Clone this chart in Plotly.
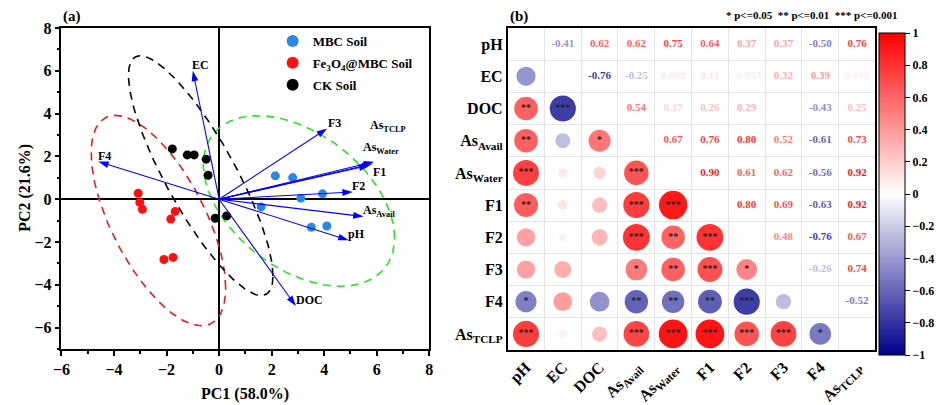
import numpy as np
import plotly.graph_objects as go
from plotly.colors import sample_colorscale

# ---------------- PCA biplot data ----------------
mbc_pc1 = [2.14, 2.80, 3.11, 3.94, 1.60, 3.51, 4.10]
mbc_pc2 = [1.09, 1.01, 0.05, 0.25, -0.36, -1.31, -1.25]
fe_pc1 = [-3.08, -3.02, -2.92, -1.67, -1.84, -2.10, -1.75]
fe_pc2 = [0.28, -0.15, -0.47, -0.57, -0.93, -2.82, -2.72]
ck_pc1 = [-1.78, -1.21, -0.95, -0.49, -0.42, -0.15, 0.29]
ck_pc2 = [2.35, 2.07, 2.07, 1.87, 1.12, -0.89, -0.78]

variables = ["pH", "EC", "DOC", "AsAvail", "AsWater", "F1", "F2", "F3", "F4", "AsTCLP"]
var_labels = ["pH", "EC", "DOC", "As<sub>Avail</sub>", "As<sub>Water</sub>",
              "F1", "F2", "F3", "F4", "As<sub>TCLP</sub>"]
load_pc1 = [4.93, -1.00, 2.92, 5.50, 5.72, 5.84, 5.09, 4.11, -4.60, 5.90]
load_pc2 = [-1.92, 6.00, -4.99, -0.81, 1.58, 1.66, 0.34, 3.30, 1.76, 1.75]

# confidence ellipses: centre, half-width, half-height, x-offset of the top point
ell_cx = [3.04, -2.31, -0.70]
ell_cy = [-0.085, -1.00, 1.10]
ell_hw = [3.64, 2.56, 2.75]
ell_hh = [3.985, 4.915, 5.60]
ell_topdx = [-1.57, -1.64, -2.30]

# ---------------- correlation data ----------------
corr_upper = [
    [-0.41, 0.62, 0.62, 0.75, 0.64, 0.37, 0.37, -0.50, 0.76],
    [-0.76, -0.25, 0.089, 0.11, -0.053, 0.32, 0.39, 0.063],
    [0.54, 0.17, 0.26, 0.29, -0.0021, -0.43, 0.25],
    [0.67, 0.76, 0.80, 0.52, -0.61, 0.73],
    [0.90, 0.61, 0.62, -0.56, 0.92],
    [0.80, 0.69, -0.63, 0.92],
    [0.48, -0.76, 0.67],
    [-0.26, 0.74],
    [-0.52],
]
sig_lower = [
    [""],
    ["**", "***"],
    ["**", "", "*"],
    ["***", "", "", "***"],
    ["**", "", "", "***", "***"],
    ["", "", "", "***", "**", "***"],
    ["", "", "", "*", "**", "***", "*"],
    ["*", "", "", "**", "**", "**", "***", ""],
    ["***", "", "", "***", "***", "***", "***", "***", "*"],
]

W, H = 936, 405
FONT = "Liberation Serif"
cscale = [[0.0, "#00008B"], [0.5, "#FFFFFF"], [1.0, "#FF0000"]]

fig = go.Figure()

# ---- ellipses ----
ell_colors = ["#22E622", "#F01818", "#000000"]
t = np.linspace(0, 2 * np.pi, 200)
for k in range(3):
    s = ell_topdx[k] * ell_hh[k] / ell_hw[k]
    kk = np.sqrt(ell_hh[k] ** 2 - s ** 2)
    ex = ell_cx[k] + ell_hw[k] * np.cos(t)
    ey = ell_cy[k] + s * np.cos(t) + kk * np.sin(t)
    fig.add_trace(go.Scatter(x=ex, y=ey, mode="lines", showlegend=False, hoverinfo="skip",
                             line=dict(color=ell_colors[k], width=1.6, dash="8px,6px"),
                             xaxis="x", yaxis="y"))

# ---- score points ----
groups = [
    ("MBC Soil", mbc_pc1, mbc_pc2, "#2C86E4"),
    ("Fe<sub>3</sub>O<sub>4</sub>@MBC Soil", fe_pc1, fe_pc2, "#FF1010"),
    ("CK Soil", ck_pc1, ck_pc2, "#000000"),
]
for gi, (name, px, py, col) in enumerate(groups):
    fig.add_trace(go.Scatter(x=px, y=py, mode="markers", name=name, legendgroup=f"g{gi}",
                             marker=dict(color=col, size=9, opacity=1),
                             xaxis="x", yaxis="y"))

# ---- loading vectors: shaft from origin, arrowhead marker oriented along the shaft ----
vx, vy, vsize = [], [], []
for lx, ly in zip(load_pc1, load_pc2):
    vx += [0, lx, None]
    vy += [0, ly, None]
    vsize += [0, 11, 0]
fig.add_trace(go.Scatter(x=vx, y=vy, mode="lines+markers", showlegend=False, hoverinfo="skip",
                         line=dict(color="#0000FF", width=1.1),
                         marker=dict(symbol="arrow", angleref="previous", size=vsize,
                                     color="#0000FF", opacity=1, line=dict(width=0)),
                         xaxis="x", yaxis="y"))

label_shift = {
    "pH": (8, 6), "EC": (8, 6), "DOC": (14, 6), "AsAvail": (15, 6), "AsWater": (12, 17),
    "F1": (7, -8), "F2": (6, 6), "F3": (7, 6), "F4": (6, 6), "AsTCLP": (14, 36),
}
annotations = []
for v, lab, lx, ly in zip(variables, var_labels, load_pc1, load_pc2):
    dx, dy = label_shift[v]
    annotations.append(dict(x=lx, y=ly, xref="x", yref="y", text=lab, showarrow=False,
                            xshift=dx, yshift=dy, font=dict(size=12, color="black")))

# ---------------- correlation matrix ----------------
n = len(variables)
R = np.eye(n)
for i, row in enumerate(corr_upper):
    for k, val in enumerate(row):
        j = i + 1 + k
        R[i, j] = R[j, i] = val


def fmt(val):
    if abs(val) >= 0.1:
        return f"{val:.2f}"
    return f"{val:.2g}"


ux, uy, utext, ucol = [], [], [], []
for i in range(n):
    for j in range(i + 1, n):
        ux.append(j)
        uy.append(i)
        utext.append(fmt(R[i, j]))
        ucol.append(sample_colorscale(cscale, [(R[i, j] + 1) / 2])[0])

fig.add_trace(go.Scatter(x=ux, y=uy, mode="text", text=utext, showlegend=False,
                         hoverinfo="skip", textfont=dict(size=11, color=ucol),
                         xaxis="x2", yaxis="y2"))

lx_, ly_, lval, lsize = [], [], [], []
sx, sy, stext = [], [], []
for i in range(1, n):
    for j in range(i):
        lx_.append(j)
        ly_.append(i)
        lval.append(R[i, j])
        lsize.append(30 * np.sqrt(abs(R[i, j])))
        star = sig_lower[i - 1][j]
        if star:
            sx.append(j)
            sy.append(i)
            stext.append(star)

fig.add_trace(go.Scatter(
    x=lx_, y=ly_, mode="markers", showlegend=False, hoverinfo="skip",
    marker=dict(size=lsize, color=lval, cmin=-1, cmax=1, colorscale=cscale, opacity=1,
                line=dict(width=0), showscale=True,
                colorbar=dict(x=887 / W, xanchor="left", xpad=0, thickness=26,
                              lenmode="pixels", len=322, y=(H - 33) / H, yanchor="top",
                              ypad=0, outlinewidth=1, outlinecolor="black",
                              tickmode="array", tickvals=[-1, -0.8, -0.6, -0.4, -0.2, 0, 0.2, 0.4, 0.6, 0.8, 1],
                              ticktext=["−1", "−0.8", "−0.6", "−0.4", "−0.2", "0", "0.2", "0.4", "0.6", "0.8", "1"],
                              ticks="outside", ticklen=5, tickcolor="black",
                              tickfont=dict(size=12, color="black"))),
    xaxis="x2", yaxis="y2"))

fig.add_trace(go.Scatter(x=sx, y=sy, mode="text", text=stext, textposition="middle center",
                         textfont=dict(size=10, color="#222222"), showlegend=False,
                         hoverinfo="skip", xaxis="x2", yaxis="y2"))

# ---------------- text annotations ----------------
annotations += [
    dict(x=62 / W, y=1 - 17 / H, xref="paper", yref="paper", text="(a)", showarrow=False,
         xanchor="left", yanchor="middle", font=dict(size=15, color="black")),
    dict(x=512 / W, y=1 - 17 / H, xref="paper", yref="paper", text="(b)", showarrow=False,
         xanchor="left", yanchor="middle", font=dict(size=15, color="black")),
    dict(x=907 / W, y=1 - 15 / H, xref="paper", yref="paper",
         text="* p<=0.05  ** p<=0.01  *** p<=0.001", showarrow=False,
         xanchor="right", yanchor="middle", font=dict(size=11, color="black")),
    dict(x=(62 + 433) / 2 / W, y=1 - 394 / H, xref="paper", yref="paper", text="PC1 (58.0%)",
         showarrow=False, xanchor="center", yanchor="middle", font=dict(size=16, color="black")),
    dict(x=25 / W, y=1 - 188 / H, xref="paper", yref="paper", text="PC2 (21.6%)", textangle=-90,
         showarrow=False, xanchor="center", yanchor="middle", font=dict(size=16, color="black")),
]

axis_common = dict(showline=True, mirror=True, linecolor="black", linewidth=1.5,
                   showgrid=False, automargin=False)

fig.update_layout(
    width=W, height=H, autosize=False,
    margin=dict(l=0, r=0, t=0, b=0),
    paper_bgcolor="white", plot_bgcolor="white",
    font=dict(family=FONT, weight="bold", color="black"),
    showlegend=True,
    legend=dict(x=275 / W, y=1 - 26 / H, xanchor="left", yanchor="top",
                bgcolor="rgba(0,0,0,0)", font=dict(size=13), itemsizing="constant",
                tracegroupgap=2),
    xaxis=dict(domain=[62 / W, 433 / W], range=[-6, 8], tickmode="linear", tick0=-6, dtick=2,
               ticks="outside", ticklen=5, tickwidth=1.5, tickcolor="black",
               minor=dict(dtick=1, ticks="outside", ticklen=3, tickcolor="black"),
               zeroline=True, zerolinecolor="black", zerolinewidth=1.5,
               tickfont=dict(size=16), anchor="y", **axis_common),
    yaxis=dict(domain=[56 / H, 377 / H], range=[-7, 8], tickmode="linear", tick0=-6, dtick=2,
               ticks="outside", ticklen=5, tickwidth=1.5, tickcolor="black",
               minor=dict(dtick=1, ticks="outside", ticklen=3, tickcolor="black"),
               zeroline=True, zerolinecolor="black", zerolinewidth=1.5,
               tickfont=dict(size=16), anchor="x", **axis_common),
    xaxis2=dict(domain=[512 / W, 883 / W], range=[-0.5, n - 0.5], tickmode="array",
                tickvals=list(range(n)), ticktext=var_labels, tickangle=-45, ticks="",
                tickfont=dict(size=16), zeroline=False, anchor="y2",
                minor=dict(tickmode="array", tickvals=[k + 0.5 for k in range(n - 1)],
                           showgrid=True, gridcolor="#E4E4E4", gridwidth=1, ticks=""),
                **axis_common),
    yaxis2=dict(domain=[55 / H, 377 / H], range=[n - 0.5, -0.5], tickmode="array",
                tickvals=list(range(n)), ticktext=var_labels, ticks="",
                tickfont=dict(size=16), zeroline=False, anchor="x2",
                minor=dict(tickmode="array", tickvals=[k + 0.5 for k in range(n - 1)],
                           showgrid=True, gridcolor="#E4E4E4", gridwidth=1, ticks=""),
                **axis_common),
    annotations=annotations,
)

fig.write_html("out.html")
